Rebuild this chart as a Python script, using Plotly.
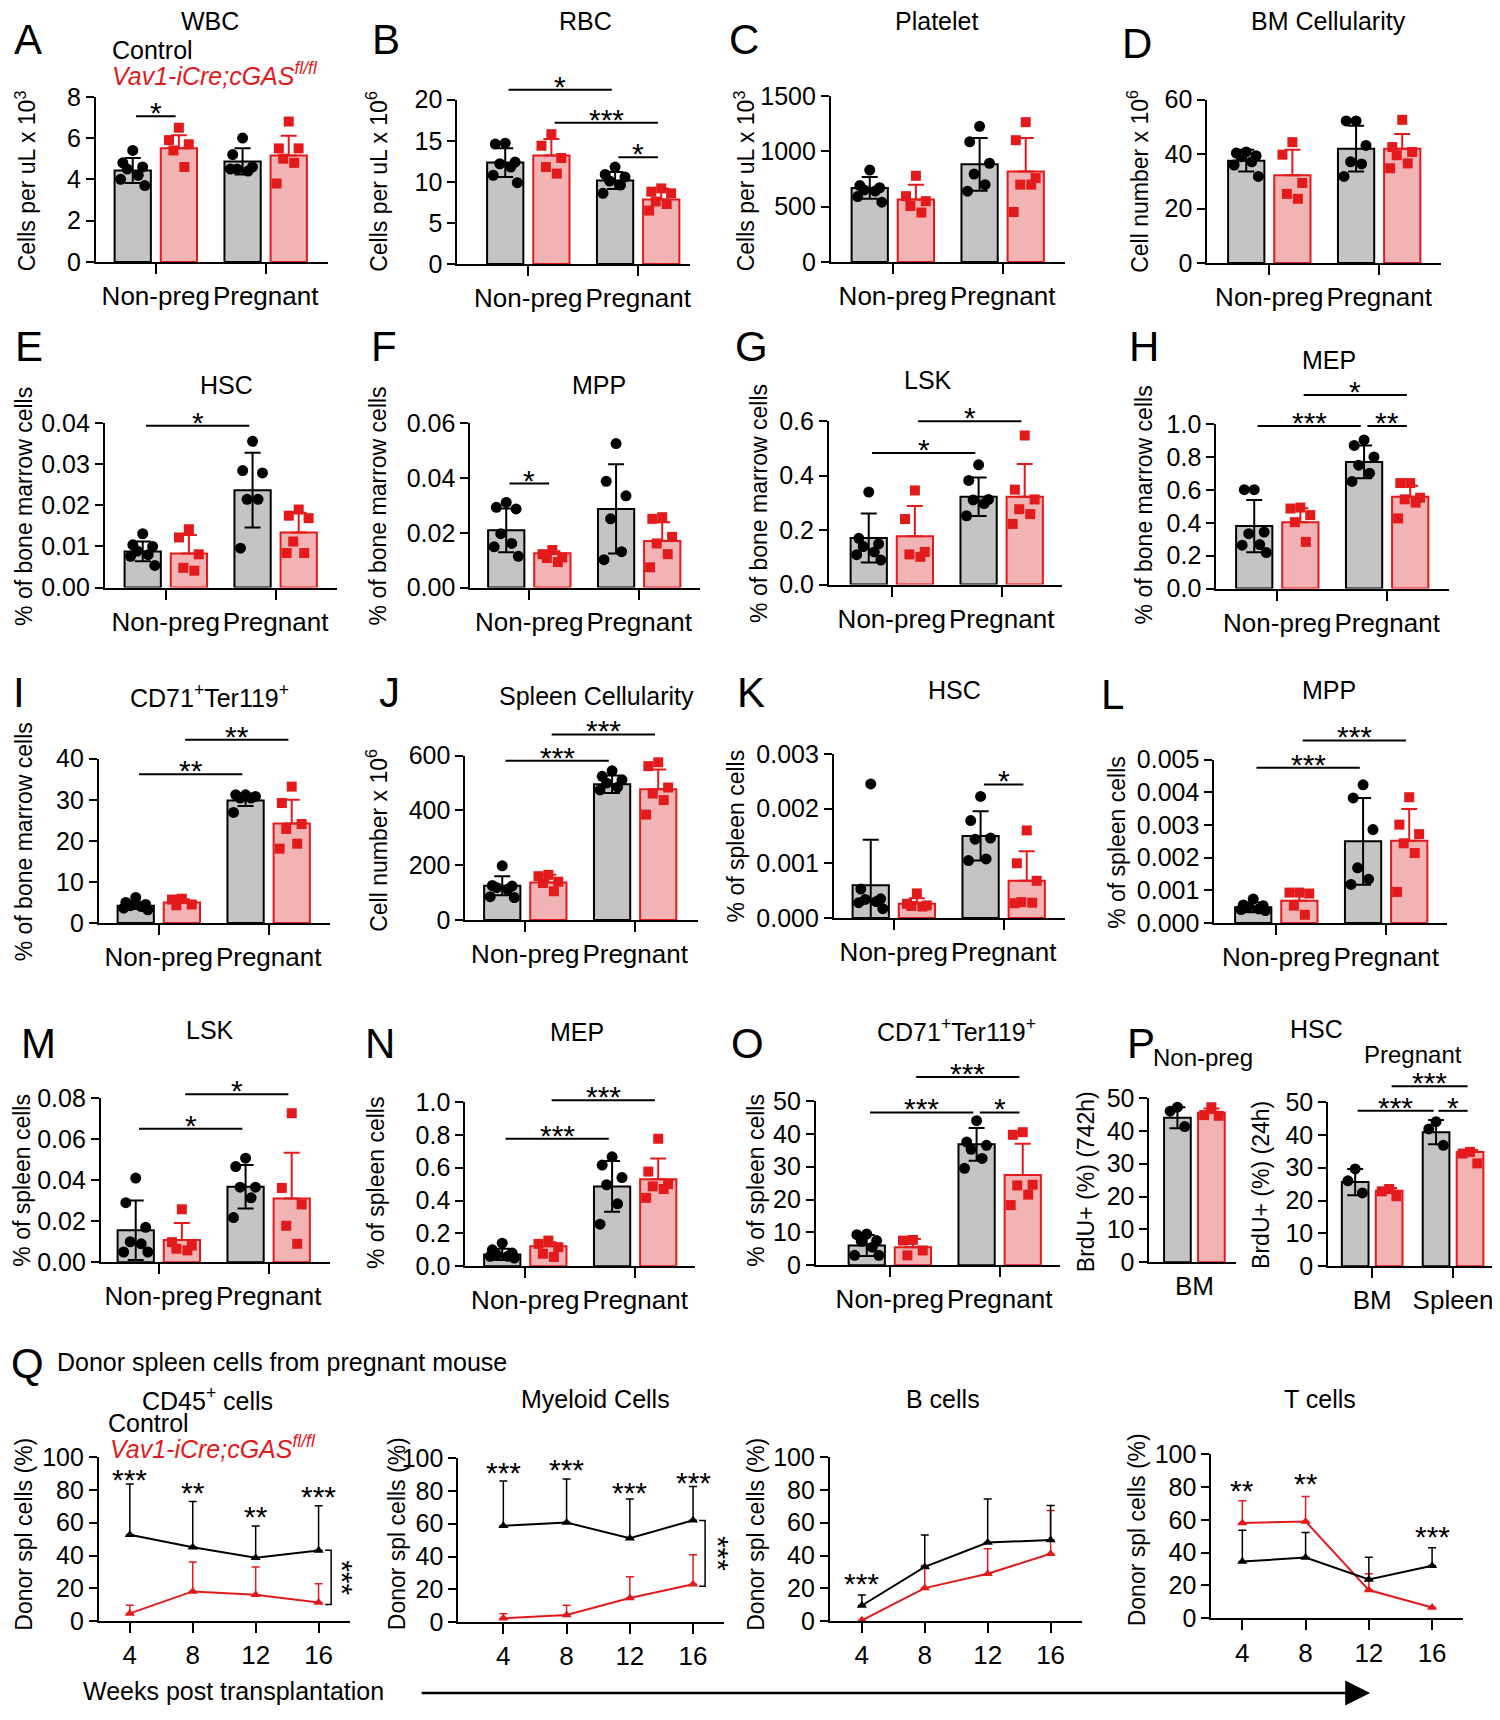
import plotly.graph_objects as go

# === Canvas / style
# the page body keeps an 8px margin, so the figure is drawn 8px in from the window corner
PAGE_W, PAGE_H = 1500, 1720
PAD = 8
FW, FH = PAGE_W - PAD, PAGE_H - 2 * PAD
FONT = "Liberation Sans, Arial, sans-serif"
BLACK = "#000000"
RED = "#e31a1c"
GRAY_FILL = "#c4c4c4"
PINK_FILL = "#f1b3b3"

# === Data  (bar order: Control non-preg, cGAS non-preg, Control pregnant, cGAS pregnant)
np_p = ["Non-preg", "Pregnant"]
bm_only = ["BM"]
bm_spl = ["BM", "Spleen"]

wbc_mean = [4.43, 5.51, 4.87, 5.16]
wbc_sd = [0.60, 0.63, 0.64, 0.95]
wbc_pts = [[5.4, 4.8, 4.6, 4.5, 4.2, 4.0, 3.7], [6.5, 5.9, 5.7, 5.4, 4.6],
           [6.0, 5.2, 4.6, 4.5, 4.4, 4.5], [6.8, 5.5, 5.5, 5.0, 4.8, 3.8]]

rbc_mean = [12.35, 13.2, 10.16, 7.85]
rbc_sd = [1.75, 2.0, 1.04, 1.35]
rbc_pts = [[14.7, 14.6, 12.4, 12.2, 11.8, 10.8, 9.9], [15.8, 14.4, 12.9, 11.8, 11.0],
           [11.8, 10.9, 10.6, 10.1, 9.6, 8.6], [9.2, 8.8, 8.6, 7.6, 7.3, 6.5]]

plt_mean = [668, 564, 882, 817]
plt_sd = [98, 134, 238, 303]
plt_pts = [[830, 690, 670, 650, 640, 590, 540], [778, 594, 549, 505, 446],
           [1224, 1084, 891, 793, 698, 639], [1262, 1099, 757, 698, 698, 451]]

bmc_mean = [37.6, 32.2, 42.0, 42.0]
bmc_sd = [4.0, 9.4, 8.4, 5.4]
bmc_pts = [[40.8, 40.4, 39.4, 39.0, 37.2, 36.0, 31.8], [44.4, 39.8, 29.4, 25.4, 23.6],
           [52.2, 52.2, 43.2, 37.2, 36.4, 31.8], [52.6, 42.6, 40.8, 39.6, 36.6, 34.8]]

bm_hsc_mean = [0.0088, 0.0083, 0.0237, 0.0134]
bm_hsc_sd = [0.0024, 0.0045, 0.0091, 0.0048]
bm_hsc_pts = [[0.0131, 0.0104, 0.0100, 0.0089, 0.0080, 0.0076, 0.0054], [0.0142, 0.0122, 0.0081, 0.0048, 0.0041],
              [0.0356, 0.0285, 0.0279, 0.0215, 0.0215, 0.0096], [0.0190, 0.0175, 0.0169, 0.0112, 0.0084, 0.0084]]

bm_mpp_mean = [0.0209, 0.0125, 0.0287, 0.0170]
bm_mpp_sd = [0.0080, 0.0008, 0.0163, 0.0069]
bm_mpp_pts = [[0.0311, 0.0293, 0.0287, 0.0197, 0.0161, 0.0149, 0.0114], [0.0137, 0.0122, 0.0110, 0.0108, 0.0093],
              [0.0526, 0.0388, 0.0335, 0.0251, 0.0131, 0.0102], [0.0257, 0.0251, 0.0185, 0.0161, 0.0122, 0.0074]]

bm_lsk_mean = [0.171, 0.178, 0.323, 0.323]
bm_lsk_sd = [0.090, 0.111, 0.071, 0.120]
bm_lsk_pts = [[0.34, 0.17, 0.15, 0.14, 0.12, 0.11, 0.09], [0.346, 0.241, 0.120, 0.111, 0.102],
              [0.44, 0.383, 0.313, 0.311, 0.298, 0.253], [0.548, 0.349, 0.313, 0.277, 0.259, 0.223]]

bm_mep_mean = [0.38, 0.404, 0.771, 0.559]
bm_mep_sd = [0.159, 0.085, 0.100, 0.067]
bm_mep_pts = [[0.602, 0.602, 0.344, 0.334, 0.268, 0.264, 0.219], [0.493, 0.487, 0.447, 0.404, 0.284],
              [0.905, 0.871, 0.801, 0.751, 0.702, 0.652], [0.642, 0.642, 0.553, 0.543, 0.523, 0.427]]

bm_ery_mean = [4.2, 5.0, 29.8, 24.2]
bm_ery_sd = [0.8, 0.8, 1.3, 5.8]
bm_ery_pts = [[6.2, 5.0, 4.5, 4.2, 4.0, 3.6, 3.2], [5.9, 5.7, 4.5, 4.3],
              [31.2, 31.2, 30.8, 30.4, 30.4, 26.9], [33.2, 29.2, 24.1, 22.9, 19.3, 18.1]]

spc_mean = [125, 137, 496, 478]
spc_sd = [35, 28, 32, 72]
spc_pts = [[198, 126, 124, 118, 112, 85, 82], [165, 160, 140, 135, 105],
           [545, 525, 512, 500, 485, 475], [576, 562, 484, 462, 438, 385]]

sp_hsc_mean = [0.0006, 0.00026, 0.0015, 0.00068]
sp_hsc_sd = [0.00083, 0.0001, 0.00045, 0.00054]
sp_hsc_pts = [[0.00245, 0.00053, 0.00035, 0.00034, 0.0003, 0.00028, 0.00017], [0.00045, 0.00026, 0.00023, 0.00022, 0.00021],
              [0.00222, 0.00178, 0.00146, 0.00144, 0.00108, 0.00105], [0.0016, 0.0010, 0.00068, 0.00029, 0.00028, 0.00027]]

sp_mpp_mean = [0.00048, 0.00068, 0.0025, 0.00252]
sp_mpp_sd = [0.00015, 0.0003, 0.00133, 0.00097]
sp_mpp_pts = [[0.00073, 0.00055, 0.00053, 0.00048, 0.00043, 0.00041, 0.00038], [0.00093, 0.00093, 0.0009, 0.00053, 0.00025],
              [0.00423, 0.00383, 0.00286, 0.00169, 0.00134, 0.00118], [0.00385, 0.00301, 0.00272, 0.00244, 0.00214, 0.00095]]

sp_lsk_mean = [0.0156, 0.0108, 0.0368, 0.0311]
sp_lsk_sd = [0.0145, 0.0083, 0.0106, 0.0223]
sp_lsk_pts = [[0.041, 0.029, 0.017, 0.010, 0.009, 0.005, 0.005], [0.0258, 0.0098, 0.0082, 0.0066, 0.0058],
              [0.0507, 0.0466, 0.0366, 0.0366, 0.0314, 0.0218], [0.0726, 0.0362, 0.0282, 0.0178, 0.009]]

sp_mep_mean = [0.072, 0.122, 0.486, 0.53]
sp_mep_sd = [0.034, 0.024, 0.154, 0.126]
sp_mep_pts = [[0.14, 0.10, 0.08, 0.07, 0.06, 0.06, 0.05], [0.156, 0.136, 0.116, 0.076, 0.056],
              [0.666, 0.616, 0.54, 0.496, 0.38, 0.256], [0.776, 0.576, 0.50, 0.486, 0.47, 0.416]]

sp_ery_mean = [6.0, 5.5, 36.8, 27.5]
sp_ery_sd = [3.2, 2.5, 5.0, 9.5]
sp_ery_pts = [[9.5, 9.3, 7.5, 7.3, 5.5, 3.0, 3.0], [7.7, 7.5, 4.5, 3.0],
              [44.0, 37.5, 36.5, 35.3, 32.5, 29.5], [40.5, 39.7, 24.5, 24.3, 21.5, 18.3]]

brdu_np_mean = [44.0, 45.5]
brdu_np_sd = [3.2, 1.3]
brdu_np_pts = [[47.2, 46.0, 41.3], [47.2, 44.8, 44.6]]

brdu_p_mean = [25.6, 23.0, 40.8, 34.8]
brdu_p_sd = [4.0, 0.8, 3.7, 0.6]
brdu_p_pts = [[29.6, 26.0, 22.3], [23.5, 22.8, 21.3], [44.0, 41.8, 36.8], [34.8, 34.3, 31.3]]

# significance: (bar i, bar j, label, line height in data units)
wbc_sig = [(0, 1, "*", 7.05)]
rbc_sig = [(0, 2, "*", 21.2), (1, 3, "***", 17.2), (2, 3, "*", 13.0)]
bm_hsc_sig = [(0, 2, "*", 0.0394)]
bm_mpp_sig = [(0, 1, "*", 0.038)]
bm_lsk_sig = [(0, 2, "*", 0.484), (1, 3, "*", 0.60)]
bm_mep_sig = [(0, 2, "***", 0.99), (2, 3, "**", 0.99), (1, 3, "*", 1.179)]
bm_ery_sig = [(0, 2, "**", 36.2), (1, 3, "**", 44.6)]
spc_sig = [(0, 2, "***", 582), (1, 3, "***", 678)]
sp_hsc_sig = [(2, 3, "*", 0.00244)]
sp_mpp_sig = [(0, 2, "***", 0.00475), (1, 3, "***", 0.00559)]
sp_lsk_sig = [(0, 2, "*", 0.065), (1, 3, "*", 0.0818)]
sp_mep_sig = [(0, 2, "***", 0.776), (1, 3, "***", 1.01)]
sp_ery_sig = [(0, 2, "***", 46.5), (2, 3, "*", 46.5), (1, 3, "***", 57.3)]
brdu_p_sig = [(0, 2, "***", 47.3), (2, 3, "*", 47.3), (1, 3, "***", 54.8)]

# === Transplant time courses (mean, upper SD)
weeks = [4, 8, 12, 16]
cd45_ctrl = [52.7, 45.1, 38.7, 43.1]
cd45_ctrl_err = [30.9, 27.9, 19.3, 27.2]
cd45_ko = [4.8, 18.2, 16.2, 11.4]
cd45_ko_err = [5.0, 17.9, 16.9, 11.4]
mye_ctrl = [58.7, 60.7, 51.1, 62.1]
mye_ctrl_err = [27.3, 26.5, 23.9, 20.5]
mye_ko = [2.4, 4.4, 14.8, 23.2]
mye_ko_err = [2.8, 6.0, 12.9, 17.9]
bc_ctrl = [9.6, 33.1, 47.9, 49.5]
bc_ctrl_err = [6.4, 19.4, 26.6, 21.0]
bc_ko = [0.6, 20.2, 28.9, 41.1]
bc_ko_err = [0.0, 13.7, 15.2, 26.4]
tc_ctrl = [34.6, 37.0, 23.6, 32.0]
tc_ctrl_err = [19.0, 15.2, 13.6, 11.0]
tc_ko = [58.0, 59.0, 17.2, 6.6]
tc_ko_err = [13.6, 15.2, 10.0, 0.0]

cd45_stars = [(4, "***", 90.6), (8, "**", 82.6), (12, "**", 68.0), (16, "***", 80.0)]
mye_stars = [(4, "***", 95.6), (8, "***", 97.0), (12, "***", 83.2), (16, "***", 89.6)]
bc_stars = [(4, "***", 27.5)]
tc_stars = [(4, "**", 82.0), (8, "**", 86.6), (16, "***", 54.0)]

fig = go.Figure()
axes_layout = {}
ann = []
shp = []
count = [0]
OFFS = [0.0, -0.09, 0.09, -0.05, 0.05, -0.11, 0.11]


def pxx(x):
    return (x - PAD) / FW


def pxy(y):
    return 1 - (y - PAD) / FH


def text(x, y, s, size=23, color=BLACK, angle=0, xanchor="center", yanchor="middle", yshift=0):
    ann.append(dict(x=pxx(x), y=pxy(y), xref="paper", yref="paper", text=s, showarrow=False,
                    font=dict(size=size, color=color, family=FONT), textangle=angle,
                    xanchor=xanchor, yanchor=yanchor, yshift=yshift))


def hline(x0, x1, y):
    shp.append(dict(type="line", xref="paper", yref="paper", x0=pxx(x0), x1=pxx(x1),
                    y0=pxy(y), y1=pxy(y), line=dict(color=BLACK, width=2)))


def add_axes(left, right, base, top, xr, yr):
    count[0] += 1
    sx = "" if count[0] == 1 else str(count[0])
    common = dict(showline=True, linecolor=BLACK, linewidth=2, ticks="outside", tickwidth=2,
                  tickcolor=BLACK, showgrid=False, zeroline=False, fixedrange=True)
    axes_layout["xaxis" + sx] = dict(domain=[pxx(left), pxx(right)], range=xr, anchor="y" + sx,
                                     ticklen=10, tickfont=dict(size=26), **common)
    axes_layout["yaxis" + sx] = dict(domain=[pxy(base), pxy(top)], range=yr, anchor="x" + sx,
                                     ticklen=8, tickfont=dict(size=25), **common)
    return "x" + sx, "y" + sx, sx


# === Bar + dot panel
def bar_panel(box, cats, mean, sd, pts, sig, top_val, dtick, fmt, show_xticks=True):
    left, right, base, top, cat1, step = box
    lo = 1 - (cat1 - left) / step
    hi = lo + (right - left) / step
    xa, ya, sx = add_axes(left, right, base, top, [lo, hi], [0, top_val])
    n = int(round(top_val / dtick))
    tv = [round(k * dtick, 6) for k in range(n + 1)]
    axes_layout["xaxis" + sx].update(tickvals=list(range(1, len(cats) + 1)), ticktext=cats,
                                     ticks="outside" if show_xticks else "")
    axes_layout["yaxis" + sx].update(tickvals=tv, ticktext=[fmt.format(t) for t in tv])

    pos = []
    for c in range(len(cats)):
        pos += [c + 1 - 0.21, c + 1 + 0.21]

    fig.add_trace(go.Bar(x=pos[0::2], y=mean[0::2], width=0.33, xaxis=xa, yaxis=ya,
                         marker=dict(color=GRAY_FILL, line=dict(color=BLACK, width=2)),
                         error_y=dict(type="data", array=sd[0::2], color=BLACK, thickness=2, width=8)))
    fig.add_trace(go.Bar(x=pos[1::2], y=mean[1::2], width=0.33, xaxis=xa, yaxis=ya,
                         marker=dict(color=PINK_FILL, line=dict(color=RED, width=2)),
                         error_y=dict(type="data", symmetric=False, array=sd[1::2],
                                      arrayminus=[0] * len(cats), color=RED, thickness=2, width=8)))
    for parity, sym, col, size in [(0, "circle", BLACK, 11), (1, "square", RED, 10)]:
        xs, ys = [], []
        for b in range(parity, len(pos), 2):
            for k, v in enumerate(pts[b]):
                xs.append(pos[b] + OFFS[k % len(OFFS)])
                ys.append(v)
        fig.add_trace(go.Scatter(x=xs, y=ys, mode="markers", xaxis=xa, yaxis=ya, cliponaxis=False,
                                 marker=dict(symbol=sym, size=size, color=col)))

    fx = lambda x: left + (x - lo) / (hi - lo) * (right - left)
    fy = lambda y: base - y / top_val * (base - top)
    for i, j, lab, yv in sig:
        hline(fx(pos[i] + 0.03), fx(pos[j] - 0.03), fy(yv))
        text((fx(pos[i]) + fx(pos[j])) / 2, fy(yv), lab, size=30, yanchor="bottom", yshift=-15)


# === Time-course panel
def line_panel(box, ctrl, ctrl_err, ko, ko_err, stars, bracket=None):
    left, right, base, top, x4, x16 = box
    step = (x16 - x4) / 12
    lo = 4 - (x4 - left) / step
    hi = 16 + (right - x16) / step
    xa, ya, sx = add_axes(left, right, base, top, [lo, hi], [0, 100])
    axes_layout["xaxis" + sx].update(tickvals=weeks, ticktext=[str(w) for w in weeks])
    axes_layout["yaxis" + sx].update(tickvals=[0, 20, 40, 60, 80, 100])
    for ys, err, col in [(ko, ko_err, RED), (ctrl, ctrl_err, BLACK)]:
        fig.add_trace(go.Scatter(x=weeks, y=ys, mode="lines+markers", xaxis=xa, yaxis=ya, cliponaxis=False,
                                 line=dict(color=col, width=2),
                                 marker=dict(symbol="triangle-up", size=9, color=col),
                                 error_y=dict(type="data", symmetric=False, array=err, arrayminus=[0] * 4,
                                              color=col, thickness=1.5, width=4)))
    fx = lambda x: left + (x - lo) / (hi - lo) * (right - left)
    fy = lambda y: base - y / 100 * (base - top)
    for w, lab, yv in stars:
        text(fx(w), fy(yv), lab, size=30, yshift=-7)
    if bracket:
        xb, y_hi, y_lo, xt = bracket
        x_in = fx(xb) - 6
        shp.append(dict(type="path", xref="paper", yref="paper",
                        path="M {} {} L {} {} L {} {} L {} {}".format(
                            pxx(x_in), pxy(fy(y_hi)), pxx(fx(xb)), pxy(fy(y_hi)),
                            pxx(fx(xb)), pxy(fy(y_lo)), pxx(x_in), pxy(fy(y_lo))),
                        line=dict(color=BLACK, width=1.5)))
        text(fx(xt), fy((y_hi + y_lo) / 2), "***", size=30, angle=90)


# === Row 1: blood counts and BM cellularity
bar_panel((96, 328, 252, 84, 156, 110), np_p, wbc_mean, wbc_sd, wbc_pts, wbc_sig, 8, 2, "{:.0f}")
bar_panel((458, 691, 254, 87, 529, 110), np_p, rbc_mean, rbc_sd, rbc_pts, rbc_sig, 20, 5, "{:.0f}")
bar_panel((832, 1066, 252, 83, 894, 110), np_p, plt_mean, plt_sd, plt_pts, [], 1500, 500, "{:.0f}")
bar_panel((1209, 1443, 253, 87, 1271, 110), np_p, bmc_mean, bmc_sd, bmc_pts, [], 60, 20, "{:.0f}")

# === Row 2: bone marrow populations
bar_panel((105, 337, 583, 416, 166, 110), np_p, bm_hsc_mean, bm_hsc_sd, bm_hsc_pts, bm_hsc_sig, 0.04, 0.01, "{:.2f}")
bar_panel((471, 701, 583, 416, 530, 110), np_p, bm_mpp_mean, bm_mpp_sd, bm_mpp_pts, bm_mpp_sig, 0.06, 0.02, "{:.2f}")
bar_panel((830, 1063, 580, 414, 893, 110), np_p, bm_lsk_mean, bm_lsk_sd, bm_lsk_pts, bm_lsk_sig, 0.6, 0.2, "{:.1f}")
bar_panel((1218, 1451, 584, 417, 1279, 110), np_p, bm_mep_mean, bm_mep_sd, bm_mep_pts, bm_mep_sig, 1.0, 0.2, "{:.1f}")

# === Row 3
bar_panel((99, 330, 924, 757, 159, 110), np_p, bm_ery_mean, bm_ery_sd, bm_ery_pts, bm_ery_sig, 40, 10, "{:.0f}")
bar_panel((466, 699, 921, 754, 526, 110), np_p, spc_mean, spc_sd, spc_pts, spc_sig, 600, 200, "{:.0f}")
bar_panel((835, 1066, 919, 752, 895, 110), np_p, sp_hsc_mean, sp_hsc_sd, sp_hsc_pts, sp_hsc_sig, 0.003, 0.001, "{:.3f}")
bar_panel((1216, 1449, 924, 758, 1278, 110), np_p, sp_mpp_mean, sp_mpp_sd, sp_mpp_pts, sp_mpp_sig, 0.005, 0.001, "{:.3f}")

# === Row 4
bar_panel((101, 330, 1269, 1102, 159, 110), np_p, sp_lsk_mean, sp_lsk_sd, sp_lsk_pts, sp_lsk_sig, 0.08, 0.02, "{:.2f}")
bar_panel((466, 696, 1273, 1106, 526, 110), np_p, sp_mep_mean, sp_mep_sd, sp_mep_pts, sp_mep_sig, 1.0, 0.2, "{:.1f}")
bar_panel((817, 1061, 1272, 1105, 891, 110), np_p, sp_ery_mean, sp_ery_sd, sp_ery_pts, sp_ery_sig, 50, 10, "{:.0f}")
bar_panel((1151, 1238, 1269, 1102, 1196, 81), bm_only, brdu_np_mean, brdu_np_sd, brdu_np_pts, [], 50, 10, "{:.0f}",
          show_xticks=False)
bar_panel((1330, 1499, 1273, 1106, 1374, 81), bm_spl, brdu_p_mean, brdu_p_sd, brdu_p_pts, brdu_p_sig, 50, 10, "{:.0f}")

# === Row 5: transplantation
line_panel((99, 350, 1634, 1467, 130, 319), cd45_ctrl, cd45_ctrl_err, cd45_ko, cd45_ko_err, cd45_stars,
           bracket=(16.8, 43.3, 10.2, 17.5))
line_panel((459, 725, 1635, 1468, 504, 694), mye_ctrl, mye_ctrl_err, mye_ko, mye_ko_err, mye_stars,
           bracket=(16.76, 62.0, 22.0, 17.6))
line_panel((831, 1083, 1634, 1467, 863, 1052), bc_ctrl, bc_ctrl_err, bc_ko, bc_ko_err, bc_stars)
line_panel((1213, 1465, 1631, 1464, 1244, 1434), tc_ctrl, tc_ctrl_err, tc_ko, tc_ko_err, tc_stars)

# === Panel letters, titles, axis labels
letters = [("A", 28, 26), ("B", 387, 26), ("C", 745, 26), ("D", 1139, 30),
           ("E", 29, 338), ("F", 385, 338), ("G", 752, 338), ("H", 1146, 338),
           ("I", 19, 690), ("J", 390, 690), ("K", 752, 690), ("L", 1114, 692),
           ("M", 39, 1047), ("N", 380, 1047), ("O", 748, 1047), ("P", 1143, 1047),
           ("Q", 28, 1372)]
for s, x, y in letters:
    text(x, y, s, size=42)

ery = "CD71<sup>+</sup>Ter119<sup>+</sup>"
titles = [("WBC", 210, 7), ("RBC", 586, 7), ("Platelet", 938, 7), ("BM Cellularity", 1330, 7),
          ("HSC", 227, 377), ("MPP", 600, 377), ("LSK", 929, 372), ("MEP", 1331, 352),
          (ery, 210, 693), ("Spleen Cellularity", 597, 693), ("HSC", 956, 687), ("MPP", 1331, 687),
          ("LSK", 210, 1033), ("MEP", 578, 1035), (ery, 958, 1033), ("HSC", 1318, 1032),
          ("CD45<sup>+</sup> cells", 208, 1408), ("Myeloid Cells", 596, 1408),
          ("B cells", 944, 1408), ("T cells", 1322, 1408)]
for s, x, y in titles:
    text(x, y, s, size=25)

cpl3 = "Cells per uL x 10<sup>3</sup>"
cpl6 = "Cells per uL x 10<sup>6</sup>"
cn6 = "Cell number x 10<sup>6</sup>"
pbm = "% of bone marrow cells"
psp = "% of spleen cells"
dsp = "Donor spl cells (%)"
ylabels = [(cpl3, 26, 169), (cpl6, 378, 170), (cpl3, 746, 170), (cn6, 1140, 170),
           (pbm, 24, 500), (pbm, 378, 500), (pbm, 760, 497), (pbm, 1145, 499),
           (pbm, 24, 841), (cn6, 378, 840), (psp, 737, 836), (psp, 1119, 842),
           (psp, 22, 1185), (psp, 376, 1188), (psp, 757, 1185),
           ("BrdU+ (%) (742h)", 1087, 1187), ("BrdU+ (%) (24h)", 1262, 1190),
           (dsp, 24, 1545), (dsp, 397, 1545), (dsp, 757, 1545), (dsp, 1138, 1541)]
for s, x, y in ylabels:
    text(x, y, s, size=23, angle=-90)

# legends and extra labels
ko_name = "<i>Vav1-iCre;cGAS<sup>fl/fl</sup></i>"
text(110, 36, "Control", size=25, xanchor="left")
text(110, 61, ko_name, size=25, color=RED, xanchor="left")
text(106, 1432, "Control", size=25, xanchor="left")
text(108, 1457, ko_name, size=25, color=RED, xanchor="left")
text(1153, 1061, "Non-preg", size=24, xanchor="left")
text(1415, 1058, "Pregnant", size=24)
text(55, 1370, "Donor spleen cells from pregnant mouse", size=25, xanchor="left")
text(234, 1705, "Weeks post transplantation", size=25)
ann.append(dict(x=pxx(1372), y=pxy(1707), xref="paper", yref="paper", ax=422 - 1372, ay=0,
                text="", showarrow=True, arrowhead=2, arrowsize=2, arrowwidth=2.5, arrowcolor=BLACK))

fig.update_layout(
    width=FW, height=FH,
    margin=dict(l=0, r=0, t=0, b=0),
    paper_bgcolor="white", plot_bgcolor="rgba(0,0,0,0)",
    font=dict(family=FONT, color=BLACK, size=23),
    barmode="overlay", showlegend=False,
    annotations=ann, shapes=shp,
    **axes_layout
)
fig.write_html("out.html")
